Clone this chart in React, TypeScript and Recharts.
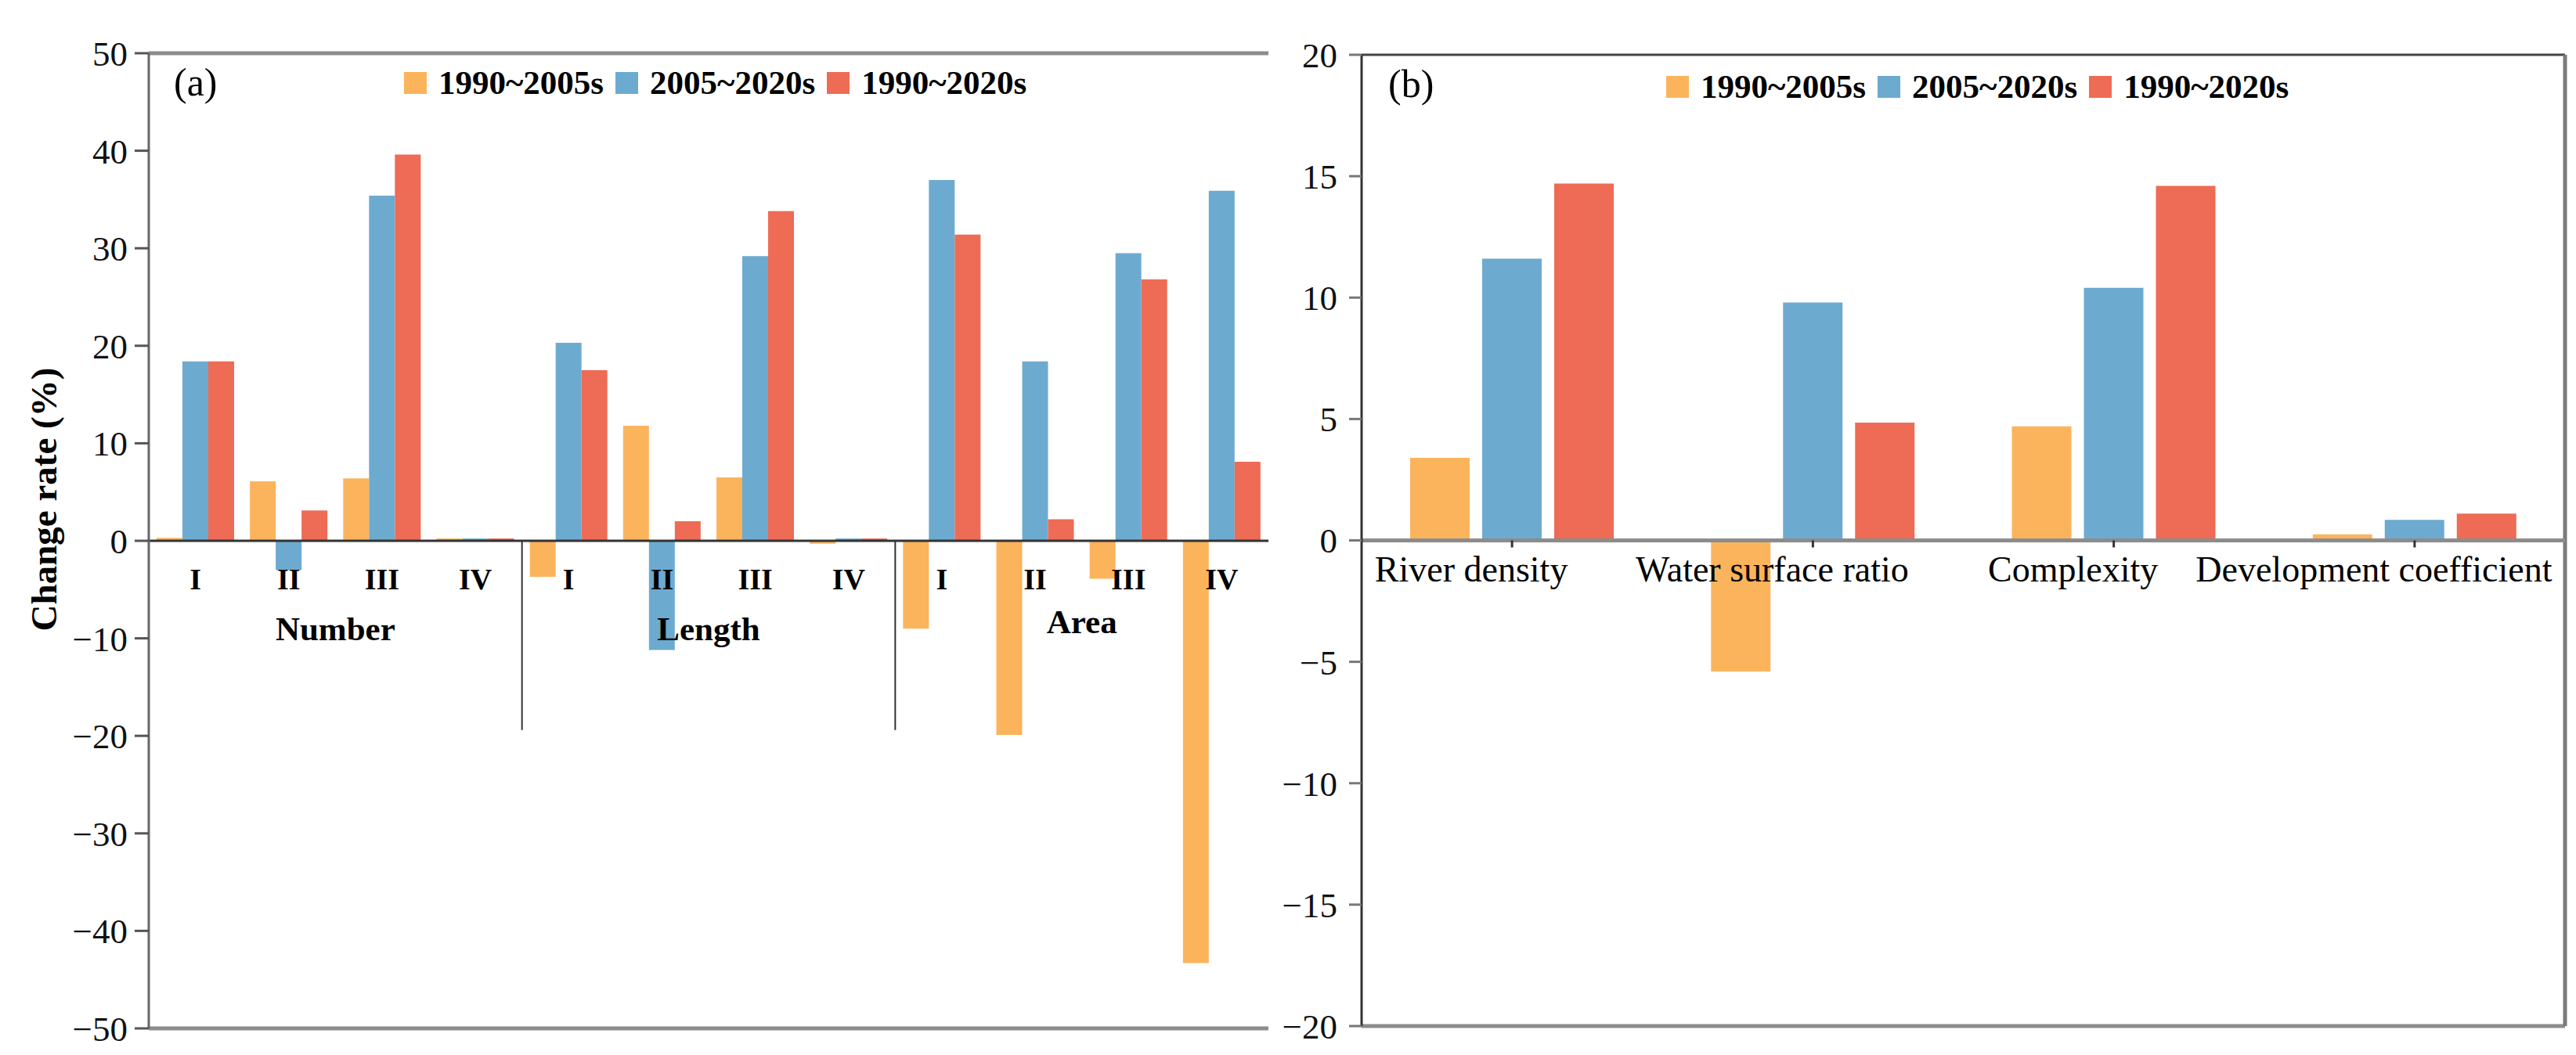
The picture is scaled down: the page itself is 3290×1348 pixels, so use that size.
import React from 'react';
import { BarChart, Bar, XAxis, YAxis, ReferenceLine, Legend } from 'recharts';

const FONT = '"Liberation Serif", "Times New Roman", Times, serif';

// ---------- data: panel (a) ----------
const groupsA = ['Number', 'Length', 'Area'];
const classesA = ['I', 'II', 'III', 'IV'];
const seriesNames = ['1990~2005s', '2005~2020s', '1990~2020s'];
const seriesColors = ['#FBB45C', '#6DAAD0', '#EE6B55'];

const a1990to2005 = [0.3, 6.1, 6.4, 0.25, -3.7, 11.8, 6.5, -0.3, -9.0, -19.9, -3.9, -43.3];
const a2005to2020 = [18.4, -3.0, 35.4, 0.25, 20.3, -11.2, 29.2, 0.25, 37.0, 18.4, 29.5, 35.9];
const a1990to2020 = [18.4, 3.1, 39.6, 0.25, 17.5, 2.0, 33.8, 0.25, 31.4, 2.2, 26.8, 8.1];
const ticksA = [-50, -40, -30, -20, -10, 0, 10, 20, 30, 40, 50];
const separatorDepthA = -19.4;

// ---------- data: panel (b) ----------
const categoriesB = ['River density', 'Water surface ratio', 'Complexity', 'Development coefficient'];
const b1990to2005 = [3.4, -5.4, 4.7, 0.25];
const b2005to2020 = [11.6, 9.8, 10.4, 0.85];
const b1990to2020 = [14.7, 4.85, 14.6, 1.1];
const ticksB = [-20, -15, -10, -5, 0, 5, 10, 15, 20];

const keysA: string[] = [];
groupsA.forEach((g) => classesA.forEach((c) => keysA.push(`${g}-${c}`)));
const rowsA = keysA.map((k, i) => ({ key: k, v1: a1990to2005[i], v2: a2005to2020[i], v3: a1990to2020[i] }));
const rowsB = categoriesB.map((k, i) => ({ key: k, v1: b1990to2005[i], v2: b2005to2020[i], v3: b1990to2020[i] }));

// ---------- layout ----------
const H = 1348;
const A_W = 1620;
const A_M = { top: 68, right: 0, bottom: 33, left: 0 };
const A_YW = 190;
const A_PLOT_W = A_W - A_M.left - A_M.right - A_YW;
const A_BW = A_PLOT_W / keysA.length;

const B_LEFT = 1620;
const B_W = 3290 - B_LEFT;
const B_M = { top: 70, right: 14, bottom: 36, left: 30 };
const B_YW = 89;
const B_PLOT_H = H - B_M.top - B_M.bottom - 1;
const B_ZERO = B_M.top + (B_PLOT_H * ticksB[ticksB.length - 1]) / (ticksB[ticksB.length - 1] - ticksB[0]);

const fmt = (v: number) => (v < 0 ? '\u2212' + Math.abs(v) : String(v));

const LegendContent = (props: any) => {
  const payload = [...(props.payload || [])].sort(
    (p: any, q: any) => seriesNames.indexOf(p.value) - seriesNames.indexOf(q.value)
  );
  return (
    <div style={{ display: 'flex', alignItems: 'center', fontFamily: FONT, fontWeight: 'bold', fontSize: 43, color: '#000', whiteSpace: 'nowrap' }}>
      {payload.map((e: any, i: number) => (
        <div key={i} style={{ display: 'flex', alignItems: 'center', marginRight: 15 }}>
          <div style={{ width: 29, height: 28, background: e.color, marginRight: 15 }} />
          <span style={{ lineHeight: '30px', height: 30 }}>{e.value}</span>
        </div>
      ))}
    </div>
  );
};

const groupDy = [0, 0, -9];

const TickA = (props: any) => {
  const { x, index } = props;
  const cls = classesA[index % classesA.length];
  const gi = Math.floor(index / classesA.length);
  return (
    <g>
      <text x={x} y={753} textAnchor="middle" fontFamily={FONT} fontWeight="bold" fontSize={38} fill="#000">
        {cls}
      </text>
      {index % classesA.length === 1 ? (
        <text x={x + A_BW / 2} y={818 + groupDy[gi]} textAnchor="middle" fontFamily={FONT} fontWeight="bold" fontSize={43} fill="#000">
          {groupsA[gi]}
        </text>
      ) : null}
    </g>
  );
};

const TickB = (props: any) => {
  const { x, payload } = props;
  return (
    <g>
      <line x1={x} x2={x} y1={B_ZERO} y2={B_ZERO + 9} stroke="#333" strokeWidth={3} />
      <text x={x - 52} y={743} textAnchor="middle" fontFamily={FONT} fontSize={46} fill="#000">
        {payload.value}
      </text>
    </g>
  );
};

export default function App() {
  return (
    <div style={{ position: 'absolute', left: 0, top: 0, width: 3290, height: H, background: '#fff', fontFamily: FONT }}>
      <div style={{ position: 'absolute', left: 0, top: 0, width: A_W + 4, height: H }}>
        <BarChart width={A_W + 4} height={H} data={rowsA} margin={{ ...A_M, right: 4 }} barCategoryGap={10} barGap={0}>
          <YAxis
            type="number"
            domain={[ticksA[0], ticksA[ticksA.length - 1]]}
            ticks={ticksA}
            interval={0}
            width={A_YW}
            tickFormatter={fmt}
            tickSize={18}
            tickMargin={9}
            axisLine={{ stroke: '#666', strokeWidth: 3 }}
            tickLine={{ stroke: '#555', strokeWidth: 3 }}
            tick={{ fontFamily: FONT, fontSize: 45, fill: '#111' }}
          />
          <Bar dataKey="v1" name={seriesNames[0]} fill={seriesColors[0]} isAnimationActive={false} />
          <Bar dataKey="v2" name={seriesNames[1]} fill={seriesColors[1]} isAnimationActive={false} />
          <Bar dataKey="v3" name={seriesNames[2]} fill={seriesColors[2]} isAnimationActive={false} />
          <ReferenceLine y={ticksA[ticksA.length - 1]} stroke="#8c8c8c" strokeWidth={5} />
          <ReferenceLine y={ticksA[0]} stroke="#8c8c8c" strokeWidth={5} />
          <ReferenceLine x={keysA[keysA.length - 1]} position="end" stroke="#8c8c8c" strokeWidth={5} />
          <ReferenceLine y={0} stroke="#333" strokeWidth={3} />
          <ReferenceLine
            segment={[{ x: keysA[4], y: 0 }, { x: keysA[4], y: separatorDepthA }]}
            position="start"
            stroke="#333"
            strokeWidth={2}
          />
          <ReferenceLine
            segment={[{ x: keysA[8], y: 0 }, { x: keysA[8], y: separatorDepthA }]}
            position="start"
            stroke="#333"
            strokeWidth={2}
          />
          <XAxis dataKey="key" interval={0} axisLine={false} tickLine={false} height={1} tick={(p: any) => <TickA {...p} />} />
          <Legend
            layout="horizontal"
            verticalAlign="middle"
            align="center"
            wrapperStyle={{ left: 516, top: 91, width: 'auto' }}
            content={(p: any) => <LegendContent {...p} />}
          />
          <text x={222} y={122} fontFamily={FONT} fontSize={50} fill="#000">(a)</text>
          <text
            x={0}
            y={0}
            transform="translate(72, 638) rotate(-90)"
            textAnchor="middle"
            fontFamily={FONT}
            fontWeight="bold"
            fontSize={47}
            fill="#000"
          >
            Change rate (%)
          </text>
        </BarChart>
      </div>
      <div style={{ position: 'absolute', left: B_LEFT, top: 0, width: B_W, height: H }}>
        <BarChart width={B_W} height={H} data={rowsB} margin={B_M} barCategoryGap={62} barGap={16}>
          <YAxis
            type="number"
            domain={[ticksB[0], ticksB[ticksB.length - 1]]}
            ticks={ticksB}
            interval={0}
            width={B_YW}
            tickFormatter={fmt}
            tickSize={16}
            tickMargin={15}
            axisLine={{ stroke: '#333', strokeWidth: 3 }}
            tickLine={{ stroke: '#777', strokeWidth: 3 }}
            tick={{ fontFamily: FONT, fontSize: 45, fill: '#111' }}
          />
          <Bar dataKey="v1" name={seriesNames[0]} fill={seriesColors[0]} isAnimationActive={false} />
          <Bar dataKey="v2" name={seriesNames[1]} fill={seriesColors[1]} isAnimationActive={false} />
          <Bar dataKey="v3" name={seriesNames[2]} fill={seriesColors[2]} isAnimationActive={false} />
          <ReferenceLine y={ticksB[ticksB.length - 1]} stroke="#444" strokeWidth={3} />
          <ReferenceLine y={ticksB[0]} stroke="#8c8c8c" strokeWidth={5} />
          <ReferenceLine x={categoriesB[categoriesB.length - 1]} position="end" stroke="#7a7a7a" strokeWidth={5} />
          <ReferenceLine y={0} stroke="#8c8c8c" strokeWidth={5} />
          <XAxis dataKey="key" interval={0} axisLine={false} tickLine={false} height={1} tick={(p: any) => <TickB {...p} />} />
          <Legend
            layout="horizontal"
            verticalAlign="middle"
            align="center"
            wrapperStyle={{ left: 2128 - B_LEFT, top: 96, width: 'auto' }}
            content={(p: any) => <LegendContent {...p} />}
          />
          <text x={1773 - B_LEFT} y={124} fontFamily={FONT} fontSize={50} fill="#000">(b)</text>
        </BarChart>
      </div>
    </div>
  );
}
